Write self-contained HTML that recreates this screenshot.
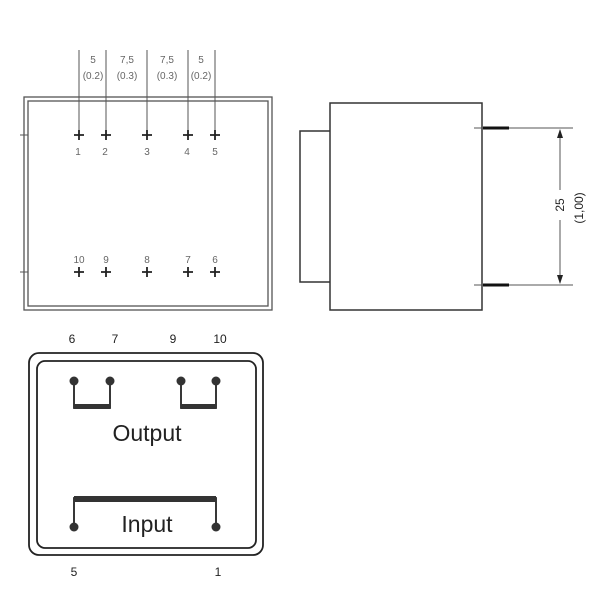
<!DOCTYPE html>
<html><head><style>body{margin:0;background:#fff}</style></head><body>
<svg width="600" height="600" xmlns="http://www.w3.org/2000/svg" font-family="Liberation Sans, sans-serif">
<rect width="600" height="600" fill="#fff"/>
<!-- top-left view -->
<g stroke="#555" fill="none" stroke-width="1.3">
<rect x="24" y="97" width="248" height="213"/>
<rect x="28" y="101" width="240" height="205"/>
</g>
<g stroke="#555" stroke-width="1">
<line x1="79" y1="50" x2="79" y2="135"/><line x1="106" y1="50" x2="106" y2="135"/>
<line x1="147" y1="50" x2="147" y2="135"/><line x1="188" y1="50" x2="188" y2="135"/>
<line x1="215" y1="50" x2="215" y2="135"/>
<line x1="20" y1="135" x2="28" y2="135"/><line x1="20" y1="272" x2="28" y2="272"/>
</g>
<g stroke="#222" stroke-width="1.8">
<path d="M74 135h10M79 130v10M101 135h10M106 130v10M142 135h10M147 130v10M183 135h10M188 130v10M210 135h10M215 130v10"/>
<path d="M74 272h10M79 267v10M101 272h10M106 267v10M142 272h10M147 267v10M183 272h10M188 267v10M210 272h10M215 267v10"/>
</g>
<g fill="#666" font-size="10" text-anchor="middle">
<text x="93" y="63">5</text><text x="93" y="79">(0.2)</text>
<text x="127" y="63">7,5</text><text x="127" y="79">(0.3)</text>
<text x="167" y="63">7,5</text><text x="167" y="79">(0.3)</text>
<text x="201" y="63">5</text><text x="201" y="79">(0.2)</text>
<text x="78" y="155">1</text><text x="105" y="155">2</text><text x="147" y="155">3</text><text x="187" y="155">4</text><text x="215" y="155">5</text>
<text x="79" y="263">10</text><text x="106" y="263">9</text><text x="147" y="263">8</text><text x="188" y="263">7</text><text x="215" y="263">6</text>
</g>
<!-- side view -->
<g stroke="#333" fill="none" stroke-width="1.5">
<path d="M330 103h152v207h-152z"/>
<path d="M330 131h-30v151h30"/>
</g>
<g stroke="#555" stroke-width="1">
<line x1="474" y1="128" x2="573" y2="128"/><line x1="474" y1="285" x2="573" y2="285"/>
<line x1="560" y1="130" x2="560" y2="190"/><line x1="560" y1="220" x2="560" y2="283"/>
</g>
<g stroke="#111" stroke-width="3"><line x1="483" y1="128" x2="509" y2="128"/><line x1="483" y1="285" x2="509" y2="285"/></g>
<path d="M560 129l-3 9h6z M560 284l-3 -9h6z" fill="#222"/>
<g fill="#222" font-size="12" text-anchor="middle">
<text transform="translate(564,205) rotate(-90)">25</text>
<text transform="translate(583,208) rotate(-90)">(1,00)</text>
</g>
<!-- schematic -->
<g stroke="#222" fill="none" stroke-width="1.8">
<rect x="29" y="353" width="234" height="202" rx="10"/>
<rect x="37" y="361" width="219" height="187" rx="8"/>
<path d="M74 381v27h36v-27M181 381v27h35v-27"/>
<path d="M74 527v-29h142v29"/>
</g>
<g fill="#333">
<rect x="74" y="404" width="36" height="5"/><rect x="181" y="404" width="35" height="5"/>
<rect x="74" y="496" width="142" height="6"/>
<circle cx="74" cy="381" r="4.5"/><circle cx="110" cy="381" r="4.5"/><circle cx="181" cy="381" r="4.5"/><circle cx="216" cy="381" r="4.5"/>
<circle cx="74" cy="527" r="4.5"/><circle cx="216" cy="527" r="4.5"/>
</g>
<g fill="#222" text-anchor="middle">
<text x="147" y="441" font-size="23">Output</text>
<text x="147" y="532" font-size="23">Input</text>
<g font-size="12"><text x="72" y="343">6</text><text x="115" y="343">7</text><text x="173" y="343">9</text><text x="220" y="343">10</text>
<text x="74" y="576">5</text><text x="218" y="576">1</text></g>
</g>
</svg>
</body></html>
